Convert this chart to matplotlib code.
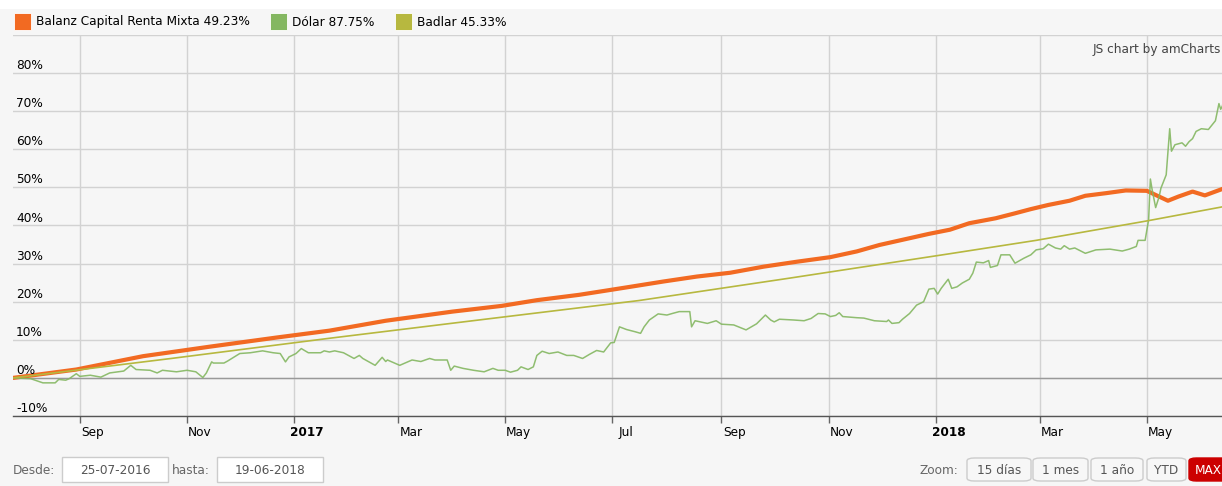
import matplotlib
matplotlib.use('Agg')
import matplotlib.pyplot as plt
import matplotlib.dates as mdates
from matplotlib.patches import Rectangle, FancyBboxPatch
from matplotlib.transforms import offset_copy, blended_transform_factory
import pandas as pd

# ---------------- data ----------------
series_names = ["Balanz Capital Renta Mixta 49.23%", "Dólar 87.75%", "Badlar 45.33%"]

balanz_dates = ["2016-07-25", "2016-08-30", "2016-10-07", "2016-11-14", "2016-12-22",
                "2017-01-21", "2017-02-22", "2017-04-01", "2017-04-29", "2017-05-19",
                "2017-06-12", "2017-06-30", "2017-07-11", "2017-07-30", "2017-08-18",
                "2017-09-06", "2017-09-25", "2017-10-14", "2017-11-02", "2017-11-17",
                "2017-11-30", "2017-12-28", "2018-01-09", "2018-01-20", "2018-02-04",
                "2018-02-15", "2018-02-24", "2018-03-06", "2018-03-18", "2018-03-27",
                "2018-04-08", "2018-04-19", "2018-05-01", "2018-05-07", "2018-05-13",
                "2018-05-19", "2018-05-27", "2018-06-03", "2018-06-13", "2018-06-19"]
balanz_vals = [0.0, 2.2, 5.7, 8.2, 10.6, 12.4, 15.0, 17.4, 18.9, 20.4,
               21.8, 23.1, 23.9, 25.3, 26.6, 27.6, 29.2, 30.5, 31.7, 33.2,
               34.9, 37.8, 38.9, 40.6, 41.9, 43.2, 44.3, 45.4, 46.5, 47.8,
               48.5, 49.2, 49.1, 47.8, 46.5, 47.6, 48.9, 47.9, 49.6, 49.23]

dolar_dates = ["2016-07-25", "2016-08-04", "2016-08-09", "2016-08-11", "2016-08-18", "2016-08-20",
               "2016-08-24", "2016-08-26", "2016-08-30", "2016-09-01", "2016-09-07", "2016-09-13",
               "2016-09-18", "2016-09-26", "2016-09-30", "2016-10-03", "2016-10-11", "2016-10-15",
               "2016-10-18", "2016-10-26", "2016-11-01", "2016-11-06", "2016-11-10", "2016-11-12",
               "2016-11-15", "2016-11-16", "2016-11-22", "2016-11-24", "2016-12-01", "2016-12-07",
               "2016-12-14", "2016-12-20", "2016-12-24", "2016-12-27", "2016-12-29", "2017-01-02",
               "2017-01-05", "2017-01-09", "2017-01-16", "2017-01-18", "2017-01-21", "2017-01-24",
               "2017-01-29", "2017-02-04", "2017-02-07", "2017-02-09", "2017-02-16", "2017-02-20",
               "2017-02-22", "2017-02-23", "2017-03-02", "2017-03-09", "2017-03-14", "2017-03-19",
               "2017-03-22", "2017-03-29", "2017-03-31", "2017-04-02", "2017-04-07", "2017-04-13",
               "2017-04-19", "2017-04-24", "2017-04-27", "2017-05-01", "2017-05-04", "2017-05-08",
               "2017-05-10", "2017-05-14", "2017-05-17", "2017-05-19", "2017-05-22", "2017-05-26",
               "2017-05-31", "2017-06-05", "2017-06-09", "2017-06-14", "2017-06-18", "2017-06-22",
               "2017-06-26", "2017-06-30", "2017-07-02", "2017-07-05", "2017-07-09", "2017-07-14",
               "2017-07-17", "2017-07-19", "2017-07-22", "2017-07-27", "2017-08-01", "2017-08-04",
               "2017-08-08", "2017-08-14", "2017-08-15", "2017-08-17", "2017-08-24", "2017-08-29",
               "2017-09-01", "2017-09-08", "2017-09-15", "2017-09-21", "2017-09-26", "2017-09-29",
               "2017-10-01", "2017-10-04", "2017-10-12", "2017-10-18", "2017-10-22", "2017-10-26",
               "2017-10-30", "2017-11-02", "2017-11-05", "2017-11-07", "2017-11-09", "2017-11-17",
               "2017-11-21", "2017-11-27", "2017-12-04", "2017-12-05", "2017-12-07", "2017-12-11",
               "2017-12-13", "2017-12-17", "2017-12-21", "2017-12-25", "2017-12-28", "2017-12-31",
               "2018-01-02", "2018-01-04", "2018-01-08", "2018-01-10", "2018-01-13", "2018-01-16",
               "2018-01-20", "2018-01-22", "2018-01-24", "2018-01-28", "2018-01-31", "2018-02-01",
               "2018-02-05", "2018-02-07", "2018-02-12", "2018-02-15", "2018-02-20", "2018-02-24",
               "2018-02-27", "2018-03-03", "2018-03-06", "2018-03-10", "2018-03-13", "2018-03-15",
               "2018-03-18", "2018-03-21", "2018-03-27", "2018-04-02", "2018-04-10", "2018-04-17",
               "2018-04-21", "2018-04-25", "2018-04-26", "2018-04-30", "2018-05-02", "2018-05-03",
               "2018-05-04", "2018-05-06", "2018-05-08", "2018-05-09", "2018-05-12", "2018-05-14",
               "2018-05-15", "2018-05-17", "2018-05-21", "2018-05-23", "2018-05-25", "2018-05-27",
               "2018-05-29", "2018-06-01", "2018-06-05", "2018-06-09", "2018-06-11", "2018-06-12",
               "2018-06-13", "2018-06-14", "2018-06-15", "2018-06-17", "2018-06-19"]
dolar_vals = [0.0, -0.2, -1.0, -1.3, -1.3, -0.4,
              -0.6, -0.2, 1.1, 0.4, 0.7, 0.2,
              1.3, 1.8, 3.3, 2.2, 2.0, 1.3,
              2.0, 1.6, 2.0, 1.6, 0.1, 1.3,
              4.2, 3.9, 3.9, 4.4, 6.4, 6.6,
              7.1, 6.6, 6.4, 4.2, 5.5, 6.4,
              7.7, 6.6, 6.6, 7.1, 6.8, 7.1,
              6.6, 5.1, 5.9, 5.1, 3.3, 5.4,
              4.3, 4.7, 3.3, 4.7, 4.3, 5.1,
              4.7, 4.7, 2.0, 3.1, 2.5, 2.0,
              1.6, 2.5, 2.0, 2.0, 1.5, 2.0,
              2.9, 2.2, 2.9, 5.9, 7.0, 6.4,
              6.8, 5.9, 5.9, 5.1, 6.2, 7.2,
              6.8, 9.2, 9.3, 13.4, 12.7, 12.1,
              11.7, 13.4, 15.2, 16.8, 16.5, 16.9,
              17.4, 17.4, 13.4, 15.0, 14.3, 15.0,
              14.1, 13.9, 12.6, 14.2, 16.5, 15.2,
              14.7, 15.4, 15.2, 15.0, 15.6, 16.9,
              16.8, 16.1, 16.4, 17.1, 16.1, 15.8,
              15.7, 15.0, 14.8, 15.2, 14.3, 14.5,
              15.4, 16.9, 19.1, 20.0, 23.3, 23.5,
              22.0, 23.5, 25.9, 23.5, 23.9, 24.9,
              25.9, 27.5, 30.4, 30.2, 30.8, 29.0,
              29.5, 32.3, 32.3, 30.1, 31.4, 32.3,
              33.6, 33.9, 35.1, 34.1, 33.8, 34.7,
              33.8, 34.1, 32.7, 33.6, 33.8, 33.3,
              33.8, 34.5, 36.1, 36.1, 41.5, 52.2,
              49.4, 44.7, 47.6, 49.8, 53.3, 65.4,
              59.5, 61.2, 61.7, 60.8, 62.0, 62.8,
              64.7, 65.4, 65.2, 67.5, 72.0, 70.5,
              71.4, 74.0, 82.0, 84.5, 87.75]

badlar_dates = ["2016-07-25", "2016-10-23", "2017-01-21", "2017-04-16", "2017-07-16",
                "2017-10-10", "2018-01-09", "2018-02-27", "2018-05-01", "2018-06-13", "2018-06-19"]
badlar_vals = [0.0, 5.1, 10.4, 15.2, 20.3, 26.2, 32.6, 36.1, 41.2, 44.9, 45.33]

x_tick_dates = ["2016-09-01", "2016-11-01", "2017-01-01", "2017-03-01", "2017-05-01", "2017-07-01",
                "2017-09-01", "2017-11-01", "2018-01-01", "2018-03-01", "2018-05-01"]
x_tick_labels = ["Sep", "Nov", "2017", "Mar", "May", "Jul", "Sep", "Nov", "2018", "Mar", "May"]
y_ticks = [-10, 0, 10, 20, 30, 40, 50, 60, 70, 80]
y_tick_labels = ["-10%", "0%", "10%", "20%", "30%", "40%", "50%", "60%", "70%", "80%"]

date_from = "2016-07-25"
date_to = "2018-06-19"
zoom_buttons = ["15 días", "1 mes", "1 año", "YTD", "MAX"]

colors = ["#f26a22", "#84b761", "#b7b83f"]

# ---------------- figure ----------------
W, H = 1222, 486
BG = "#f6f6f6"
FS = 8.7
plt.rcParams['font.family'] = ['DejaVu Sans']
fig = plt.figure(figsize=(W / 100, H / 100), dpi=100, facecolor=BG)


def fx(px):
    return px / W


def fy(py):
    return 1 - py / H


# white strip at top
fig.patches.append(Rectangle((0, fy(9)), 1, 9 / H, transform=fig.transFigure,
                             facecolor="white", edgecolor="none", zorder=0))

ax = fig.add_axes([fx(13), fy(416), (1233 - 13) / W, (416 - 35) / H])
ax.set_facecolor(BG)

d0 = pd.Timestamp(date_from)
d1 = pd.Timestamp(date_to)
ax.set_xlim(d0, d1)
ax.set_ylim(-10, 90)

for s in ["top", "right", "left"]:
    ax.spines[s].set_visible(False)
ax.spines["bottom"].set_color("#555555")
ax.spines["bottom"].set_linewidth(1.0)

ax.set_yticks(y_ticks + [90])
ax.set_xticks(pd.to_datetime(x_tick_dates))
ax.grid(True, color="#d2d2d2", linewidth=1.0)
ax.set_axisbelow(True)
ax.tick_params(axis="y", length=0, labelleft=False)
ax.tick_params(axis="x", direction="out", length=5, color="#666666", width=1, labelbottom=False)
ax.axhline(0, color="#999999", linewidth=1.0, zorder=1)

ax.plot(pd.to_datetime(balanz_dates), balanz_vals, color=colors[0], linewidth=3.0,
        solid_joinstyle="round", zorder=3)
ax.plot(pd.to_datetime(dolar_dates), dolar_vals, color=colors[1], linewidth=1.1,
        alpha=0.9, zorder=4)
ax.plot(pd.to_datetime(badlar_dates), badlar_vals, color=colors[2], linewidth=1.2, zorder=5)

# y labels inside the plot, above grid lines
ytrans = blended_transform_factory(ax.transAxes, ax.transData)
ytrans = offset_copy(ytrans, fig=fig, x=3, y=1, units="dots")
for v, lab in zip(y_ticks, y_tick_labels):
    ax.text(0, v, lab, transform=ytrans, ha="left", va="bottom", fontsize=FS, color="#000000",
            zorder=6)

# x labels
xtrans = blended_transform_factory(ax.transData, ax.transAxes)
xtrans = offset_copy(xtrans, fig=fig, x=13, y=-10, units="dots")
for d, lab in zip(pd.to_datetime(x_tick_dates), x_tick_labels):
    bold = lab.isdigit()
    ax.text(mdates.date2num(d), 0, lab, transform=xtrans, ha="center", va="top",
            fontsize=FS, color="#000000", fontweight="bold" if bold else "normal",
            clip_on=False)

# legend
leg_x = [14, 270, 395]
for i, (name, c) in enumerate(zip(series_names, colors)):
    x = leg_x[i]
    fig.patches.append(Rectangle((fx(x), fy(30)), 17 / W, 17 / H, transform=fig.transFigure,
                                 facecolor=c, edgecolor="white", linewidth=0.6))
    fig.text(fx(x + 22), fy(22), name, ha="left", va="center", fontsize=FS, color="#000000")

fig.text(fx(1093), fy(50), "JS chart by amCharts", ha="left", va="center", fontsize=FS,
         color="#444444")

# bottom controls
fig.text(fx(13), fy(470), "Desde:", ha="left", va="center", fontsize=FS, color="#666666")
fig.text(fx(172), fy(470), "hasta:", ha="left", va="center", fontsize=FS, color="#666666")
for (x0, x1), txt in zip([(62, 168), (217, 323)],
                         [pd.Timestamp(date_from).strftime("%d-%m-%Y"),
                          pd.Timestamp(date_to).strftime("%d-%m-%Y")]):
    fig.patches.append(Rectangle((fx(x0), fy(482)), (x1 - x0) / W, 25 / H,
                                 transform=fig.transFigure, facecolor="white",
                                 edgecolor="#cccccc", linewidth=1))
    fig.text(fx((x0 + x1) / 2), fy(470), txt, ha="center", va="center", fontsize=FS,
             color="#555555")

fig.text(fx(919), fy(470), "Zoom:", ha="left", va="center", fontsize=FS, color="#666666")
btn_x = [(967, 1031), (1033, 1088), (1091, 1143), (1147, 1186), (1189, 1240)]
for (x0, x1), lab in zip(btn_x, zoom_buttons):
    active = lab == "MAX"
    fig.patches.append(FancyBboxPatch((fx(x0), fy(481)), (x1 - x0) / W, 23 / H,
                                      boxstyle="round,pad=0,rounding_size=0.006",
                                      transform=fig.transFigure,
                                      facecolor="#cc0000" if active else "#f7f7f7",
                                      edgecolor="#cc0000" if active else "#cccccc",
                                      linewidth=1))
    fig.text(fx((x0 + x1) / 2) if not active else fx(x0 + 6), fy(470), lab,
             ha="center" if not active else "left", va="center", fontsize=FS,
             color="white" if active else "#555555")

fig.savefig("out.png", dpi=100, facecolor=BG)
